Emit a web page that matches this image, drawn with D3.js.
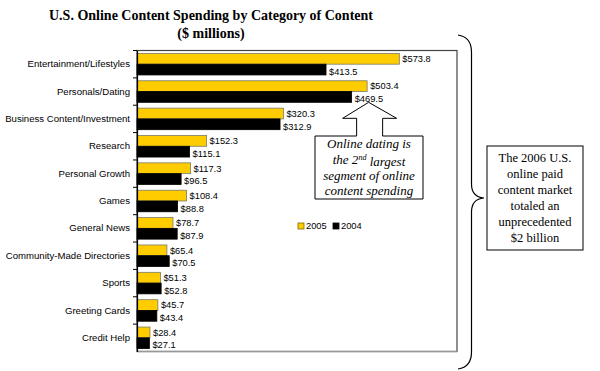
<!DOCTYPE html>
<html>
<head>
<meta charset="utf-8">
<script src="https://cdn.jsdelivr.net/npm/d3@7"></script>
<style>
  body { margin: 0; background: #fff; }
  svg { display: block; }
</style>
</head>
<body>
<script>
const categories = [
  "Entertainment/Lifestyles", "Personals/Dating", "Business Content/Investment",
  "Research", "Personal Growth", "Games", "General News",
  "Community-Made Directories", "Sports", "Greeting Cards", "Credit Help"
]
const series = ["2005", "2004"]
const values2005 = [573.8, 503.4, 320.3, 152.3, 117.3, 108.4, 78.7, 65.4, 51.3, 45.7, 28.4]
const values2004 = [413.5, 469.5, 312.9, 115.1, 96.5, 88.8, 87.9, 70.5, 52.8, 43.4, 27.1]
const titleLines = ["U.S. Online Content Spending by Category of Content", "($ millions)"]
const calloutLines = ["Online dating is", "the 2|nd| largest", "segment of online", "content spending"]
const noteLines = ["The 2006 U.S.", "online paid", "content market", "totaled an", "unprecedented", "$2 billion"]

const W = 600, H = 371
const plot = {left: 137, right: 457, top: 50.5, bottom: 351.5}
const sans = "Arial, 'Liberation Sans', sans-serif"
const serif = "'Times New Roman', 'Liberation Serif', serif"
const colors = {"2005": "#ffcc00", "2004": "#000000"}

const rows = categories.map((c, i) => ({cat: c, "2005": values2005[i], "2004": values2004[i]}))

const svg = d3.select("body").append("svg")
  .attr("width", W).attr("height", H)

const x = d3.scaleLinear().domain([0, 700]).range([plot.left, plot.right])
const y0 = d3.scaleBand().domain(categories).range([plot.top, plot.bottom]).padding(0)
const y1 = d3.scaleBand().domain(series).range([0, y0.bandwidth()]).paddingInner(0).paddingOuter(0.27)

// title
svg.append("g").selectAll("text")
  .data(titleLines)
  .join("text")
  .attr("x", 211)
  .attr("y", (d, i) => 20 + i * 18)
  .attr("text-anchor", "middle")
  .style("font", `bold 14px ${serif}`)
  .text(d => d)

// plot frame
svg.append("rect")
  .attr("x", plot.left).attr("y", plot.top)
  .attr("width", plot.right - plot.left).attr("height", plot.bottom - plot.top)
  .attr("fill", "none").attr("stroke", "#444").attr("stroke-width", 1.2)
svg.append("line")
  .attr("x1", plot.left).attr("x2", plot.right)
  .attr("y1", plot.bottom).attr("y2", plot.bottom)
  .attr("stroke", "#999").attr("stroke-width", 1.5)

// bars
const groups = svg.append("g").selectAll("g")
  .data(rows)
  .join("g")
  .attr("transform", d => `translate(0,${y0(d.cat)})`)

groups.selectAll("rect")
  .data(d => series.map(s => ({s, v: d[s]})))
  .join("rect")
  .attr("x", x(0))
  .attr("y", d => y1(d.s))
  .attr("width", d => x(d.v) - x(0))
  .attr("height", y1.bandwidth())
  .attr("fill", d => colors[d.s])
  .attr("stroke", d => d.s === "2005" ? "#7a7a6a" : "#000")
  .attr("stroke-width", 0.8)

groups.selectAll("text")
  .data(d => series.map(s => ({s, v: d[s]})))
  .join("text")
  .attr("x", d => x(d.v) + 3)
  .attr("y", d => y1(d.s) + y1.bandwidth() / 2 + (d.s === "2004" ? 2 : 0))
  .attr("dy", "0.35em")
  .style("font", `9.3px ${sans}`)
  .text(d => `$${d.v.toFixed(1)}`)

// y axis
const yAxis = svg.append("g")
  .attr("transform", `translate(${plot.left},0)`)
  .call(d3.axisLeft(y0).tickSize(0).tickPadding(7))
yAxis.select(".domain").attr("stroke", "#000").attr("stroke-width", 1.2)
yAxis.selectAll("text").style("font", `9.6px ${sans}`).attr("fill", "#000")
// tick marks at category boundaries
yAxis.append("g").selectAll("line")
  .data(categories)
  .join("line")
  .attr("x1", -4).attr("x2", 0)
  .attr("y1", d => y0(d)).attr("y2", d => y0(d))
  .attr("stroke", "#000")

// legend
const legend = svg.append("g").attr("transform", "translate(298,226)")
const li = legend.selectAll("g").data(series).join("g")
  .attr("transform", (d, i) => `translate(${i * 35},0)`)
li.append("rect")
  .attr("x", 0).attr("y", -3).attr("width", 6).attr("height", 6)
  .attr("fill", d => colors[d])
  .attr("stroke", d => d === "2005" ? "#7a6a00" : "#000").attr("stroke-width", 0.8)
li.append("text")
  .attr("x", 8).attr("y", 0).attr("dy", "0.35em")
  .style("font", `9.3px ${sans}`)
  .text(d => d)

// callout pointing at Personals/Dating 2004
const tipX = x(values2004[1]) + 17
const tipY = y0(categories[1]) + y1("2004") + y1.bandwidth()
const box = {l: 315, r: 423, t: 136, b: 199}
const baseY = tipY + 16
svg.append("path")
  .attr("d", `M${box.l},${box.t} L${tipX - 12},${box.t} L${tipX - 12},${baseY} L${tipX - 26},${baseY}
    L${tipX},${tipY} L${tipX + 28},${baseY} L${tipX + 14},${baseY} L${tipX + 14},${box.t}
    L${box.r},${box.t} L${box.r},${box.b} L${box.l},${box.b} Z`)
  .attr("fill", "#fff").attr("stroke", "#000").attr("stroke-width", 1)

const callout = svg.append("g").selectAll("text")
  .data(calloutLines)
  .join("text")
  .attr("x", (box.l + box.r) / 2)
  .attr("y", (d, i) => 148 + i * 15.8)
  .attr("text-anchor", "middle")
  .style("font", `italic 13px ${serif}`)
callout.each(function(d) {
  const parts = d.split("|")
  const t = d3.select(this)
  t.append("tspan").text(parts[0])
  if (parts.length > 1) {
    t.append("tspan").attr("dy", "-0.45em").style("font-size", "8px").text(parts[1])
    t.append("tspan").attr("dy", "0.45em").text(parts[2])
  }
})

// brace
svg.append("path")
  .attr("d", `M458,35 Q471.5,37 471.5,52 L471.5,184 Q471.5,197 484,198
    Q471.5,199 471.5,212 L471.5,352 Q471.5,367 458,369`)
  .attr("fill", "none").attr("stroke", "#000").attr("stroke-width", 1.2)

// side note
svg.append("rect")
  .attr("x", 487).attr("y", 146).attr("width", 96).attr("height", 104)
  .attr("fill", "#fff").attr("stroke", "#000").attr("stroke-width", 1)
svg.append("g").selectAll("text")
  .data(noteLines)
  .join("text")
  .attr("x", 535)
  .attr("y", (d, i) => 162 + i * 15.9)
  .attr("text-anchor", "middle")
  .style("font", `12.5px ${serif}`)
  .text(d => d)
</script>
</body>
</html>
